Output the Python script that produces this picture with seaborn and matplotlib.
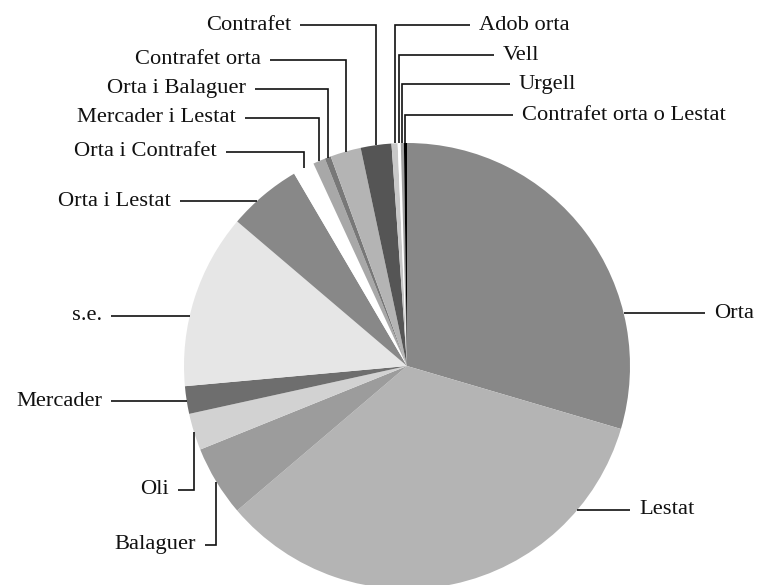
import numpy as np
import matplotlib
matplotlib.use("Agg")
import matplotlib.pyplot as plt
import seaborn as sns

categories = ["Orta", "Lestat", "Balaguer", "Oli", "Mercader", "s.e.",
              "Orta i Lestat", "Orta i Contrafet", "Mercader i Lestat",
              "Orta i Balaguer", "Contrafet orta", "Contrafet", "Adob orta",
              "Vell", "Urgell", "Contrafet orta o Lestat"]
values = [133, 154, 23, 12, 9, 57, 24, 7, 4, 2, 10, 10, 2, 1, 1, 1]
colors = ["#888888", "#b4b4b4", "#9c9c9c", "#d2d2d2", "#6e6e6e", "#e6e6e6",
          "#888888", "#ffffff", "#a8a8a8", "#787878", "#b4b4b4", "#555555",
          "#c8c8c8", "#ffffff", "#a0a0a0", "#000000"]

# label layout: kind, line end x (px), y (px from top), text side
layout = {
    "Orta": ("side", 705, 313, "right"),
    "Lestat": ("side", 630, 510, "right"),
    "Balaguer": ("down", 205, 545, "left"),
    "Oli": ("down", 178, 490, "left"),
    "Mercader": ("side", 111, 401, "left"),
    "s.e.": ("side", 111, 316, "left"),
    "Orta i Lestat": ("side", 180, 201, "left"),
    "Orta i Contrafet": ("up", 226, 152, "left"),
    "Mercader i Lestat": ("up", 245, 118, "left"),
    "Orta i Balaguer": ("up", 255, 89, "left"),
    "Contrafet orta": ("up", 270, 60, "left"),
    "Contrafet": ("up", 300, 25, "left"),
    "Adob orta": ("up", 470, 25, "right"),
    "Vell": ("up", 494, 55, "right"),
    "Urgell": ("up", 510, 84, "right"),
    "Contrafet orta o Lestat": ("up", 513, 115, "right"),
}

W, H = 760, 585
sns.set_theme(style="white")
plt.rcParams["font.family"] = ["Liberation Serif", "DejaVu Serif"]

fig = plt.figure(figsize=(W / 100, H / 100), dpi=100)
ax = fig.add_axes([0, 0, 1, 1])
cx, cy, R = 407, H - 366, 223
wedges, _ = ax.pie(values, colors=colors, startangle=90, counterclock=False,
                   center=(cx, cy), radius=R,
                   wedgeprops=dict(linewidth=0))
ax.set_xlim(0, W)
ax.set_ylim(0, H)
ax.set_aspect("equal")
ax.axis("off")

lc = "#111111"
lw = 1.2
gap = 9
fs = 16.2
for w, name in zip(wedges, categories):
    kind, xe, ytop, side = layout[name]
    y = H - ytop
    if kind == "side":
        dy = y - cy
        dx = np.sqrt(max(R ** 2 - dy ** 2, 0))
        xs = cx + dx if side == "right" else cx - dx
        ax.plot([xs, xe], [y, y], color=lc, lw=lw, solid_capstyle="butt")
    else:
        mid = np.deg2rad((w.theta1 + w.theta2) / 2)
        xv = cx + R * np.cos(mid)
        yv = cy + R * np.sin(mid)
        ax.plot([xv, xv, xe], [yv, y, y], color=lc, lw=lw,
                solid_capstyle="butt", solid_joinstyle="miter")
    if side == "right":
        ax.text(xe + gap, y, name, ha="left", va="center", fontsize=fs, color="#111111")
    else:
        ax.text(xe - gap, y, name, ha="right", va="center", fontsize=fs, color="#111111")

fig.savefig("out.png", dpi=100, facecolor="white")
